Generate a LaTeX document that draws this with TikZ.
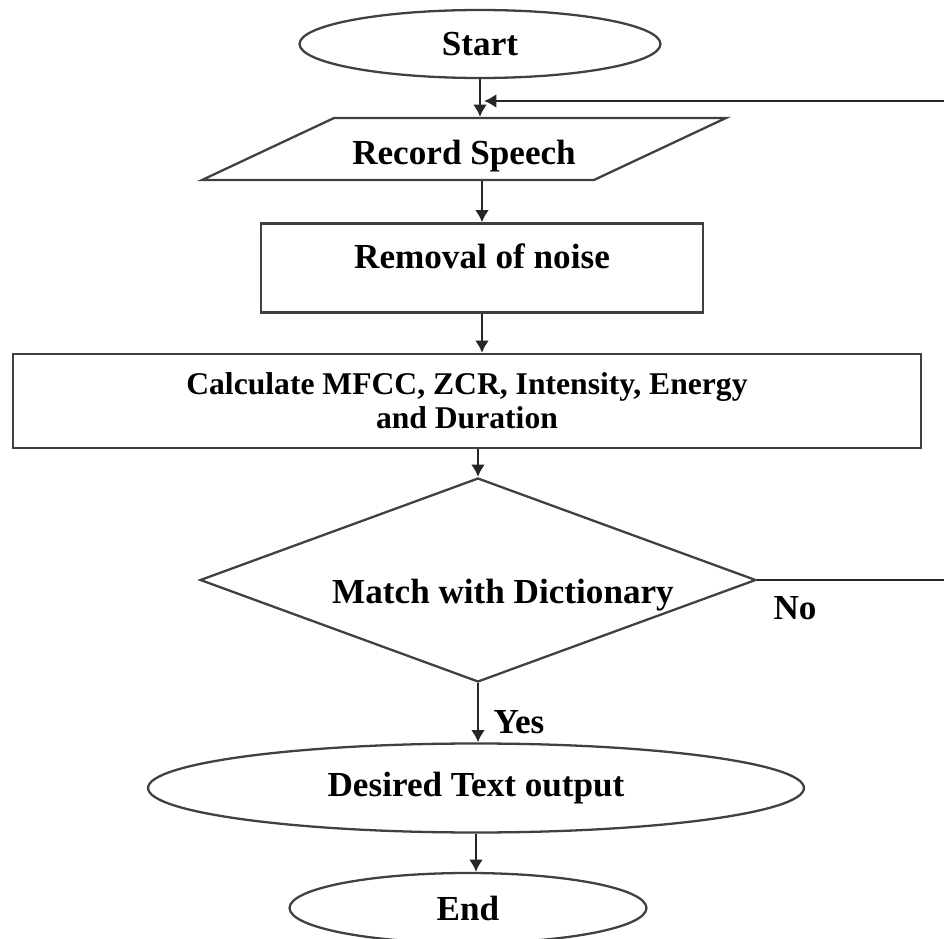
\documentclass[tikz,border=0pt]{standalone}
\usepackage{fontspec}
\setmainfont{Liberation Serif}
\usepackage{tikz}
\usetikzlibrary{shapes.geometric, arrows.meta}

\tikzset{
    box/.style={draw=black!75, line width=1.3pt, font=\fontsize{20}{24}\selectfont\bfseries},
    flow/.style={draw=black!85, line width=1.6pt, -{Latex[length=7pt, width=8pt]}},
    tag/.style={font=\fontsize{20}{24}\selectfont\bfseries}
}

\begin{document}
\begin{tikzpicture}[x=0.02cm, y=-0.02cm]
        \useasboundingbox (0,0) rectangle (944,939);

        \node[box, ellipse, minimum width=7.22cm, minimum height=1.36cm] (start) at (480,44) {Start};
        \node[box, trapezium, trapezium left angle=23.5, trapezium right angle=156.5, trapezium stretches body, minimum width=10.48cm, minimum height=1.24cm, text height=22pt, text depth=4pt] (rec) at (464,149) {Record Speech};
        \node[box, rectangle, minimum width=8.84cm, minimum height=1.78cm, text depth=13pt] (rem) at (482,268) {Removal of noise};
        \node[box, rectangle, minimum width=18.16cm, minimum height=1.88cm, align=center, font=\fontsize{18}{19.5}\selectfont\bfseries] (calc) at (467,401) {Calculate MFCC, ZCR, Intensity, Energy\\and Duration};
        \node[box, diamond, aspect=2.7, inner sep=0pt, minimum width=11.12cm, minimum height=4.08cm, label={[tag, xshift=0.5cm, yshift=-0.3cm]center:Match with Dictionary}] (dec) at (478,580) {};
        \node[box, ellipse, minimum width=13.12cm, minimum height=1.78cm] (out) at (476,788) {Desired Text output};
        \node[box, ellipse, minimum width=7.14cm, minimum height=1.4cm] (stop) at (468,908) {End};

        \node[tag] (no) at (795,608) {No};
        \node[tag] (yes) at (519,722) {Yes};
        \coordinate (loop) at (484,101);

        \draw[flow] (start.south) -- (start.south |- rec.north);
        \draw[flow] (rem.north |- rec.south) -- (rem.north);
        \draw[flow] (rem.south) -- (rem.south |- calc.north);
        \draw[flow] (dec.north |- calc.south) -- (dec.north);
        \draw[flow] (dec.south) -- (dec.south |- out.north);
        \draw[flow] (out.south) -- (out.south |- stop.north);
        \draw[flow] (dec.east) -- ++(220,0) |- (loop);
    \end{tikzpicture}
\end{document}
